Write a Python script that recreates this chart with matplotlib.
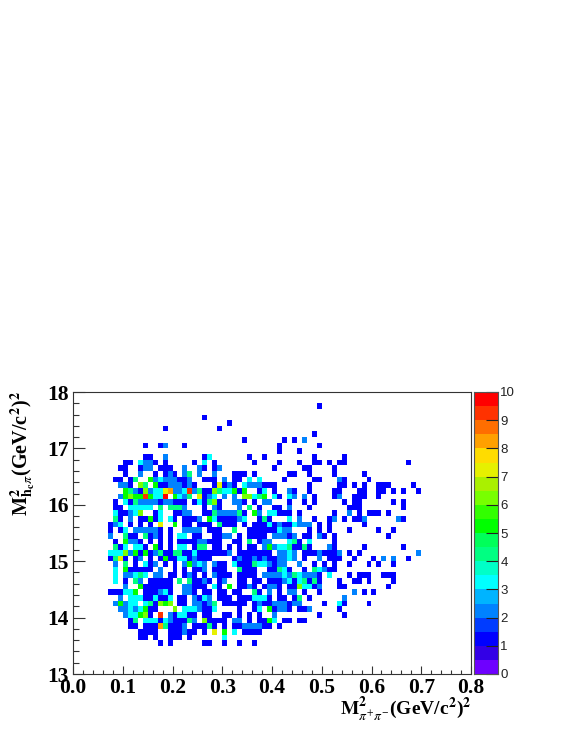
import numpy as np
import matplotlib
matplotlib.use('Agg')
import matplotlib.pyplot as plt
from matplotlib.colors import ListedColormap, BoundaryNorm
from matplotlib.ticker import MultipleLocator

plt.rcParams['font.family'] = ['Liberation Serif', 'DejaVu Sans']
plt.rcParams['mathtext.fontset'] = 'stix'

# bin edges
x_edges = np.arange(0, 81) / 100
y_edges = 13 + np.arange(0, 51) / 10

# counts, row = bins below the top edge,
# each token is column[:count], count is 1 if left out
rows = {
    2: "49",
    4: "26",
    5: "31",
    6: "18 29",
    7: "48",
    8: "34 42 44 46:2",
    9: "14 17 18:2 22 41 49",
    10: "41 45",
    11: "14 15 18:2 26 27:3 35 38 48 54",
    12: "10 11 13:3 14:2 15:2 16 18 24 26:3 28 36 41 45 48 49 51 53 54 67",
    13: "9 10 13 14:2 15:2 17 18 19 22:2 25:2 26 28 29:2 40 46 47 52",
    14: "10 13:2 16 18 19:2 20 22:2 23:4 25:2 28:2 32 33 34 36 43 44 47 52 58",
    15: "8 9 11 12:4 15:5 16:2 17:3 18:2 19:2 20:2 21 22 23:2 26 27 28 30:2 32 33 35:3 37:3 42 48 49 53:2 54 59",
    16: "9:2 10:2 11 13:6 14:4 16:5 17 18 19:2 20:2 21:2 22 23:2 24 28 29:7 30 31:2 32 34:3 35:2 36:2 37:2 38 39 40 47 53 54 56 58 61 62 63 68",
    17: "10:5 11:4 12:2 13 14:6 15:2 16:3 17:3 18:7 19:8 20:2 21:2 22:3 23:9 24:2 25:4 26 27 28:6 29:4 30:3 31:3 32:5 33 34:5 37 38:3 40 43:2 44 47 52 53 57 58 61 62 64 66 69",
    18: "9:2 10:5 11:6 12:5 13:5 14:9 15:5 16:3 17:3 18:10 20:5 21:3 22:2 23:4 25:7 26 27:2 28:3 30:2 32:2 34:6 35:6 36:3 37:4 38:5 40:3 41 43:3 44:2 46:2 48 52 53:2 56 57 58 61",
    19: "8 10:3 11 12:4 13:2 14:2 15:2 16:2 17 18:2 19:2 20 21 22 24 25:3 26 27:4 28:6 29 32:2 33:2 34 36 38:2 39:2 43 46 48 54 56 57 64 66",
    20: "8 9 11:3 12:3 13:3 14:3 15:3 17:4 19:4 20:4 21:4 22:2 26 28:2 29 33:2 35:4 37 40 41 43:2 47 55 56 57 66",
    21: "8:3 9 10 11:2 12:3 13:6 16 17:3 20 21 22:2 23:2 26 27 28:4 29:2 30:2 31:2 32:2 33:4 34 36:5 37:2 39:3 40:3 41 42 43 45 52 55:2 57 59 60 61 63",
    22: "8:4 9 11:2 13 14 15:5 16 17:3 19:3 20 22 23 24 25:2 27:5 28:3 29 30 31 32 33:2 34:3 37 38:4 39 43:3 45:2 48 51 52:2 54 56 57 58:2 65:2 66",
    23: "7 8:2 9:3 11 13 15 17:7 20:5 22 23 25 26 27 29:4 30 31 32 34 36 37 38 39:3 40 41:2 42 43 44:3 45:2 46:2 47:2 49 51 58",
    24: "7 9 10:3 12:2 13:2 14:2 15:2 16:2 17 19 22:2 23:2 24:2 25:2 27 28 29 32:4 35 36 37 38 39 40 41:3 42:2 43:2 47 49 51 55 61 64",
    25: "7:2 10:4 11 12 14:4 15 16:2 17 19 21:3 22:3 24 25 28 29 30:2 31:2 33 35 36 37 38 40:2 41:2 42:2 43 44:2 46 47 49:2 50 52 63",
    26: "8 10:5 11:2 12:2 13 15 17 19 21 22 23 24 25:2 26:2 27 28 29 32 33 35:4 37 38:2 39:2 43:3 44:4 45 47:3 52",
    27: "8:4 9 10:3 12:3 13:3 14 16:5 17 19 21:3 22:3 24 25:4 26:4 28 29 31 33 35 36 38:2 39:5 40:2 41:3 42:3 43:4 44 45 46:4 47 51:2 52 58 66",
    28: "7:3 8:3 9:3 10:6 11:2 12:5 13 14:5 15 16:2 17:4 18 19 20:4 21:4 22 23 24:3 25 26 27 28 29 30 31:2 33 34 35 36 37 38 39 41:2 42:2 43:3 44:2 46 47 48 49:2 50 51 52 53:2 55 57 69:2",
    29: "7 8:4 9:7 10 12 13:2 15 17 18:5 19 20 21:3 22:3 23 24:2 25 26 27 32 33:2 34 35 36:2 37 38:2 39 40 41:2 42:2 43:3 44:2 46 49:2 51 52 53 56 60 62:2 64:2 67",
    30: "8:2 10:4 12 14:3 15 16:2 18 20 22:2 23:5 24:2 25:3 26:2 28:2 29 30 32:3 33 34 35 36:4 37:3 38:3 39:2 40 41:2 42:2 45:2 48 50 52 55 59 61 64",
    31: "8:3 10:5 11 12 13 14 15 17:2 20 22 24 25 26:2 28 29 30 33:4 34 35 36 39 40 41:4 42:3 43 46 48:4 49:3 50:2 51 52",
    32: "8:3 10:2 11:2 12:3 13:4 14:3 16:2 17:2 19 20 22 23:2 24 26 28:2 29 30 31 33 34 35 36 38:2 39:2 40:2 41:2 42:3 43:2 44:4 45:3 46:2 47:2 48:2 49 51:3 55 57 58 59 62 63 64",
    33: "8:3 10 12:4 13:2 15 16 17 18 19 21:4 23:4 24 25 26:2 27 29 30:2 33 34 36 37 39 40 41 42:2 43:3 44 45:3 46:4 47 48:4 49 53 56 57 59 64",
    34: "10:2 13:5 14 15 16 17 18 19 22:2 23:2 24 25 26 28:3 29 31:5 33 34 35:2 36 38 39:2 40:2 41 43 44 45:6 46:3 47:3 48 49:2 53 54 63",
    35: "7 8 9 10:3 11:3 12:5 14 15 16 17:2 18:3 19 22:2 23:2 24 26 27 29 30 32 33 36:4 37 39:2 41 43:2 44:2 46 49 56:2 58 60",
    36: "9:2 11:3 12:3 13:3 14 15 16:3 17 18 19:3 21 22 24:2 25 26:3 27:2 29 30 31 33 34 35 36:3 37:3 38:3 39 41 42 44 45:4 47 54:2",
    37: "8:2 9:5 10:2 11:3 12:3 14:3 15:4 16 17:6 18:5 19:6 21 22 24:2 25:2 26 27:2 28:4 30 31 32 33 34 36 37:2 38 39 40:2 41:2 42:2 43 44:2 45:2 50 53:3 54 59",
    38: "9:2 10:2 11:3 12:2 13:3 14:5 15 16 20:6 22:3 23:3 24:3 25:2 26 27 28:3 33 36 37:3 39:5 40 41:2 42:2 43 45 46 47:2 53",
    39: "10:2 11:3 12:3 13:5 14:6 15 17:9 19:2 20 21:3 22:3 23 24 26 27 30 31 33 35 37 40:2 49 54",
    40: "11 12:4 14:3 15:3 16:3 17 18:3 19:2 20 21 22 23:4 24:2 26:6 27 28 29 30 32:2 33:2 35 37 38 39:5 40:3 42 43 45 46",
    41: "11 12 14 15 16 17:8 18:4 19 20 21 22:2 24 25 26 27:4 28 30 32 33 34:2 35:2 36:2 37:2 38 39 41",
    42: "13 14 15 16 19 20 21 22:2 23 24 26 28:7 30:5 32:3 34 35 36 37",
    43: "13 14 16 19 20 21 23 30:3",
    44: "17 19 26 27 30 33 36",
}

# ROOT rainbow palette, 20 levels between 0 and 10
palette = ['#6e00ff', '#3300e6', '#0000ff', '#003cff', '#0082ff', '#00b4ff',
           '#00ffff', '#00ffc8', '#00ff82', '#00ff5a', '#00ff00', '#32ff00',
           '#78ff00', '#aaf000', '#e6f000', '#ffdc00', '#ffa000', '#ff6e00',
           '#ff3200', '#ff0000']
levels = np.arange(0, 10.5, 0.5)
z_ticks = np.arange(0, 11)

counts = np.zeros((50, 80))
for row, text in rows.items():
    for tok in text.split():
        col, _, val = tok.partition(':')
        counts[49 - row, int(col)] = int(val) if val else 1
counts = np.ma.masked_equal(counts, 0)

W, H = 565, 731
fig = plt.figure(figsize=(W / 100, H / 100), dpi=100)
ax = fig.add_axes([73 / W, 1 - 674 / H, 398 / W, 282 / H])
cax = fig.add_axes([473.5 / W, 1 - 674 / H, 24 / W, 282 / H])

cmap = ListedColormap(palette)
norm = BoundaryNorm(levels, cmap.N)
mesh = ax.pcolormesh(x_edges, y_edges, counts, cmap=cmap, norm=norm)

ax.set_xlim(0, 0.8)
ax.set_ylim(13, 18)
ax.xaxis.set_major_locator(MultipleLocator(0.1))
ax.xaxis.set_minor_locator(MultipleLocator(0.02))
ax.yaxis.set_major_locator(MultipleLocator(1))
ax.yaxis.set_minor_locator(MultipleLocator(0.2))
ax.tick_params(axis='x', which='major', direction='in', length=5.8, width=0.8, color='#333333', labelsize=15.5, pad=3)
ax.tick_params(axis='x', which='minor', direction='in', length=2.9, width=0.8, color='#333333')
ax.tick_params(axis='y', which='major', direction='in', length=8.6, width=0.8, color='#333333', labelsize=15.5, pad=3)
ax.tick_params(axis='y', which='minor', direction='in', length=4.3, width=0.8, color='#333333')
for lab in ax.get_xticklabels() + ax.get_yticklabels():
    lab.set_fontweight('bold')
for sp in ax.spines.values():
    sp.set_linewidth(0.8)
    sp.set_color('#333333')

# palette strip
cax.pcolormesh([0, 1], levels, np.array(levels[:-1]).reshape(-1, 1), cmap=cmap, norm=norm)
cax.set_xlim(0, 1)
cax.set_ylim(0, 10)
cax.set_xticks([])
cax.yaxis.tick_right()
cax.set_yticks(z_ticks)
cax.set_yticklabels([str(v) for v in z_ticks], family='Liberation Sans', fontsize=9.5, color='#222222')
cax.tick_params(axis='y', direction='in', length=8.6, width=0.8, pad=2, color='#222222')
for sp in cax.spines.values():
    sp.set_linewidth(0.8)
    sp.set_color('#555555')

fig.text(471 / W, 1 - 710 / H, r'$\mathbf{M}^{\mathbf{2}}_{\pi^{+}\pi^{-}}$(GeV/c$^{\mathbf{2}}$)$^{\mathbf{2}}$',
         ha='right', va='center', fontsize=14, fontweight='bold')
fig.text(23 / W, 1 - 391 / H, r'$\mathbf{M}^{\mathbf{2}}_{\mathbf{h_c}\pi}$(GeV/c$^{\mathbf{2}}$)$^{\mathbf{2}}$',
         ha='center', va='top', rotation=90, fontsize=14.5, fontweight='bold')

fig.savefig('out.png', dpi=100)
